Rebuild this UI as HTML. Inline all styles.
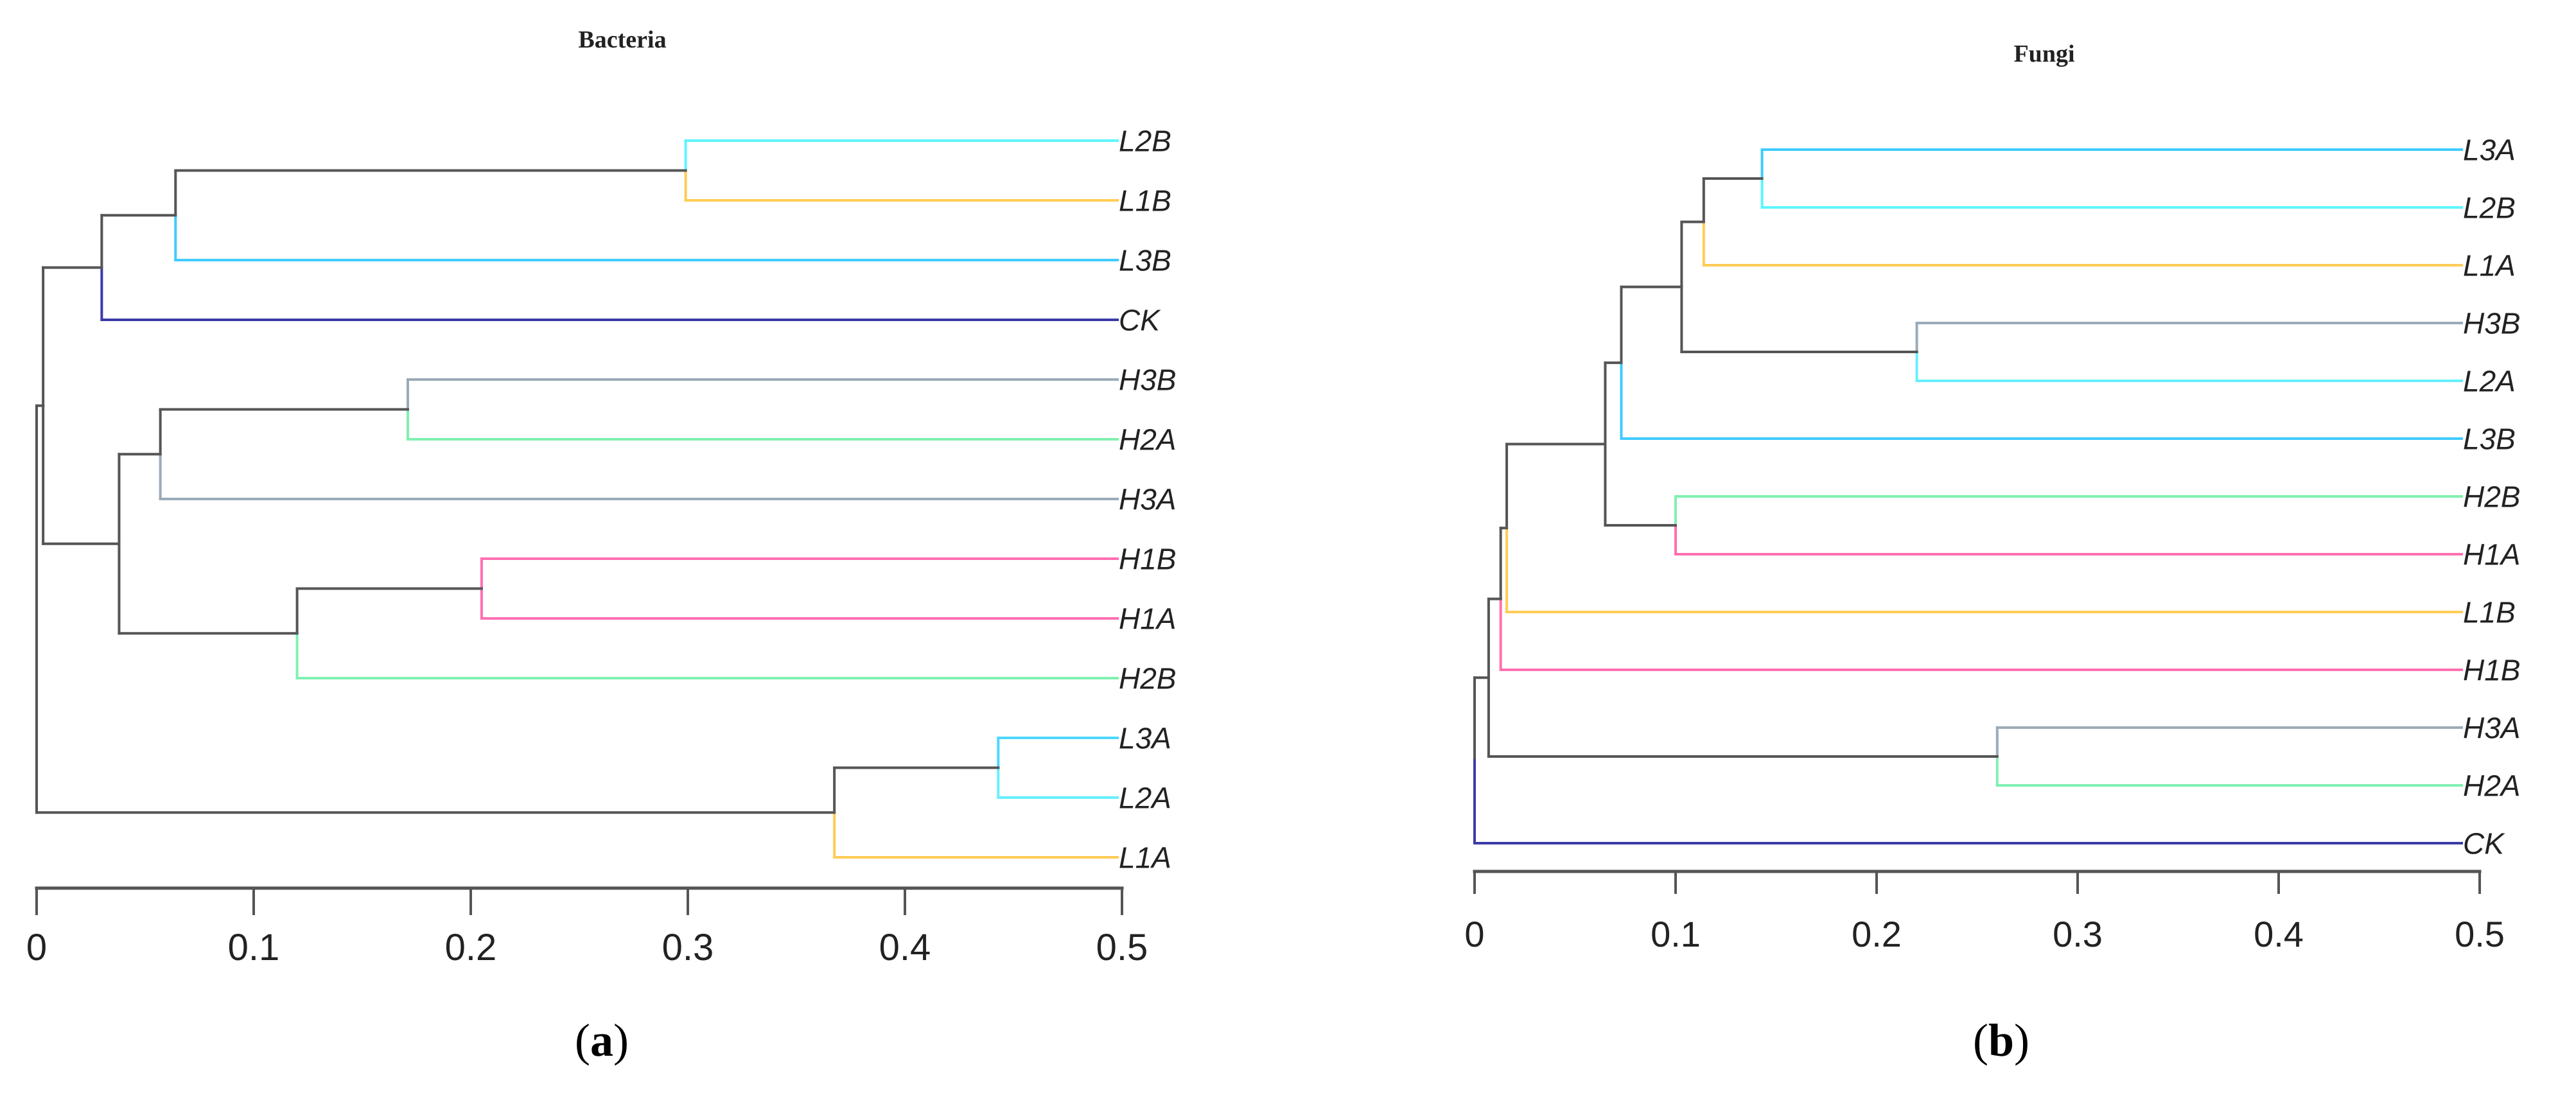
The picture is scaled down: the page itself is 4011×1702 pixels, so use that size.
<!DOCTYPE html>
<html><head><meta charset="utf-8">
<style>
html,body{margin:0;padding:0;background:#fff;}
svg{display:block;}
</style></head>
<body>
<svg id="chart" width="4011" height="1702" viewBox="0 0 4011 1702" xmlns="http://www.w3.org/2000/svg">
<rect width="4011" height="1702" fill="#fff"/>
<text x="969" y="74" font-family="Liberation Serif, serif" font-weight="bold" font-size="38" text-anchor="middle" fill="#222">Bacteria</text>
<text x="3183" y="96" font-family="Liberation Serif, serif" font-weight="bold" font-size="38" text-anchor="middle" fill="#222">Fungi</text>
<text x="937" y="1644" font-family="Liberation Serif, serif" font-size="72" text-anchor="middle" fill="#000">(<tspan font-weight="bold">a</tspan>)</text>
<text x="3116" y="1644" font-family="Liberation Serif, serif" font-size="72" text-anchor="middle" fill="#000">(<tspan font-weight="bold">b</tspan>)</text>
<g id="left"></g>
<g id="right"></g>
</svg>
<script>
// ---- Bacteria data ----
const bactLeaves = ["L2B","L1B","L3B","CK","H3B","H2A","H3A","H1B","H1A","H2B","L3A","L2A","L1A"];
const bactLeafColors = ["#5ef5ff","#ffcc55","#3ecbff","#3b3ba8","#9aabb8","#80f0b0","#9aabb8","#ff70b0","#ff70b0","#80f0b0","#4dd8ff","#66f0ff","#ffcc55"];
const bactNodeA = ["L0","N0","N1","L4","N3","L7","N5","N4","N2","L10","N9","N8"];
const bactNodeB = ["L1","L2","L3","L5","L6","L8","L9","N6","N7","L11","L12","N10"];
const bactHeights = [0.299,0.064,0.030,0.171,0.057,0.205,0.120,0.038,0.003,0.443,0.3675,0.0];
// ---- Fungi data ----
const fungLeaves = ["L3A","L2B","L1A","H3B","L2A","L3B","H2B","H1A","L1B","H1B","H3A","H2A","CK"];
const fungLeafColors = ["#3ecbff","#5ef5ff","#ffcc55","#9aabb8","#66f0ff","#3ecbff","#80f0b0","#ff70b0","#ffcc55","#ff70b0","#9aabb8","#80f0b0","#3b3ba8"];
const fungNodeA = ["L0","N0","L3","N1","N3","L6","N4","N6","N7","L10","N8","N10"];
const fungNodeB = ["L1","L2","L4","N2","L5","L7","N5","L8","L9","L11","N9","L12"];
const fungHeights = [0.143,0.114,0.220,0.103,0.073,0.100,0.065,0.016,0.013,0.260,0.007,0.0];
const tickValues = [0,0.1,0.2,0.3,0.4,0.5];
const tickLabels = ["0","0.1","0.2","0.3","0.4","0.5"];

const NS="http://www.w3.org/2000/svg";
function draw(gid, cfg, leaves, colors, nA, nB, hts, prefix){
  const g=document.getElementById(gid);
  const xs=v=>cfg.x0+(cfg.x5-cfg.x0)*v/0.5;
  const ys=i=>cfg.y0+cfg.dy*i;
  const pos={};
  leaves.forEach((n,i)=>{pos["L"+i]={x:cfg.leafX,y:ys(i),c:colors[i]};});
  function line(x1,y1,x2,y2,c,name,w){
    const l=document.createElementNS(NS,"line");
    l.setAttribute("x1",x1);l.setAttribute("y1",y1);l.setAttribute("x2",x2);l.setAttribute("y2",y2);
    l.setAttribute("stroke",c);l.setAttribute("stroke-width",w||4);l.setAttribute("stroke-linecap","square");
    
    
    g.appendChild(l);
  }
  for(let k=0;k<hts.length;k++){
    const a=pos[nA[k]], b=pos[nB[k]];
    const px=xs(hts[k]), py=(a.y+b.y)/2;
    [a,b].forEach((ch,j)=>{
      line(px,py,px,ch.y,ch.c,prefix+"-branch-v-"+k+"-"+j);
      line(px,ch.y,ch.x,ch.y,ch.c,prefix+"-branch-h-"+k+"-"+j);
    });
    pos["N"+k]={x:px,y:py,c:"#555"};
  }
  leaves.forEach((n,i)=>{
    const t=document.createElementNS(NS,"text");
    t.setAttribute("x",cfg.leafX+2);t.setAttribute("y",ys(i)+cfg.lfs*0.36);
    t.setAttribute("font-family","Liberation Sans, sans-serif");t.setAttribute("font-style","italic");
    t.setAttribute("font-size",cfg.lfs);t.setAttribute("fill","#222");
    t.textContent=n;
    
    
    g.appendChild(t);
  });
  line(xs(0),cfg.ay,xs(0.5),cfg.ay,"#555",prefix+"-x-axis",5);
  tickValues.forEach((v,i)=>{
    line(xs(v),cfg.ay,xs(v),cfg.ay+cfg.tl,"#555",prefix+"-tick-"+i,4);
    const t=document.createElementNS(NS,"text");
    t.setAttribute("x",xs(v));t.setAttribute("y",cfg.ly);t.setAttribute("text-anchor","middle");
    t.setAttribute("font-family","Liberation Sans, sans-serif");t.setAttribute("font-size",cfg.tfs);t.setAttribute("fill","#222");
    t.textContent=tickLabels[i];
    
    
    g.appendChild(t);
  });
}
draw("left",{x0:57,x5:1747,leafX:1740,y0:219,dy:93,ay:1383,tl:40,ly:1495,tfs:58,lfs:46},bactLeaves,bactLeafColors,bactNodeA,bactNodeB,bactHeights,"bacteria");
draw("right",{x0:2296,x5:3861,leafX:3833,y0:233,dy:90,ay:1357,tl:33,ly:1474,tfs:56,lfs:46},fungLeaves,fungLeafColors,fungNodeA,fungNodeB,fungHeights,"fungi");
</script>
</body></html>
